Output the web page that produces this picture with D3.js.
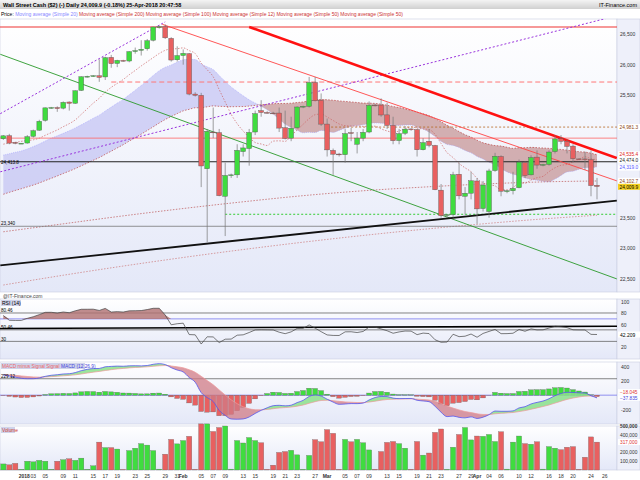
<!DOCTYPE html>
<html><head><meta charset="utf-8">
<script src="https://cdn.jsdelivr.net/npm/d3@7"></script>
<style>body{margin:0;background:#fff}svg{display:block;font-family:"Liberation Sans",Arial,sans-serif}</style>
</head><body><svg id="c" width="640" height="480"></svg>
<script>
const dates=["12-28","12-29","12-31","01-01","01-02","01-03","01-04","01-05","01-07","01-08","01-09","01-10","01-11","01-12","01-14","01-15","01-16","01-17","01-18","01-19","01-21","01-22","01-23","01-24","01-25","01-26","01-28","01-29","01-30","01-31","02-01","02-02","02-04","02-05","02-06","02-07","02-08","02-09","02-11","02-12","02-13","02-14","02-15","02-16","02-18","02-19","02-20","02-21","02-22","02-23","02-25","02-26","02-27","02-28","03-01","03-02","03-04","03-05","03-06","03-07","03-08","03-09","03-11","03-12","03-13","03-14","03-15","03-16","03-18","03-19","03-20","03-21","03-22","03-23","03-25","03-26","03-27","03-28","03-29","04-02","04-03","04-04","04-05","04-06","04-08","04-09","04-10","04-11","04-12","04-13","04-15","04-16","04-17","04-18","04-19","04-20","04-22","04-23","04-24","04-25"];
const opens=[24790,24840,24730,24715,24720,24830,24930,25090,25290,25300,25290,25390,25370,25580,25800,25810,25820,25800,26120,26020,26070,26060,26215,26235,26260,26400,26610,26620,26430,26080,26150,26180,25520,25500,24300,24900,24890,23850,24190,24200,24580,24630,24900,25250,25220,25210,25210,24970,24800,24970,25310,25320,25710,25420,25030,24600,24540,24530,24890,24700,24800,24900,25340,25340,25180,25010,24760,24880,24950,24940,24610,24750,24680,23950,23540,23550,24210,23850,23900,24100,23650,23600,24270,24500,23930,23940,23990,24400,24200,24490,24360,24370,24580,24790,24750,24670,24460,24460,24450,24030];
const highs=[24850,24870,24740,24720,24850,24940,25100,25300,25310,25320,25400,25400,25580,25810,25820,25830,26090,26130,26160,26080,26080,26220,26280,26400,26420,26620,26640,26660,26450,26300,26250,26190,25550,25540,24950,25300,24950,24400,24220,24700,24700,24950,25250,25420,25240,25230,25300,25250,25150,25320,25330,25800,25800,25530,25120,24630,24560,24950,24970,24900,24950,25400,25360,25450,25380,25150,24950,25000,24960,24950,24800,24950,24690,24050,23560,24250,24400,24000,24250,24150,24100,24300,24560,24520,23950,24250,24450,24420,24520,24600,24380,24600,24850,24850,24780,24700,24470,24580,24600,24150];
const lows=[24770,24700,24700,24710,24710,24810,24920,25070,25280,25230,25270,25250,25360,25570,25790,25800,25720,25750,25950,25960,26050,26040,26180,26150,26230,26380,26590,26420,26050,26050,26000,25500,25480,24000,23100,24800,23850,23200,24150,24150,24500,24350,24850,25150,25200,25190,24900,24780,24750,24950,25290,25300,25400,25000,24500,24200,24500,24400,24750,24550,24750,24880,25320,25150,24950,24700,24700,24850,24920,24500,24600,24650,23950,23500,23500,23500,23800,23550,23800,23400,23600,23500,24250,23850,23900,23880,23980,24150,24190,24300,24340,24350,24550,24700,24550,24400,24440,24280,23850,23800];
const closes=[24838,24719,24715,24716,24824,24922,25075,25295,25300,25283,25385,25369,25574,25803,25810,25820,25792,26115,26017,26071,26060,26214,26230,26252,26392,26616,26620,26439,26076,26149,26186,25520,25500,24345,24912,24893,23860,24190,24200,24601,24640,24893,25200,25219,25210,25200,24964,24797,24962,25309,25320,25709,25410,25029,24608,24538,24530,24874,24884,24801,24895,25336,25330,25178,25007,24758,24873,24947,24940,24610,24727,24683,23957,23533,23550,24202,23857,23900,24103,23644,24034,24264,24505,23933,23940,23979,24408,24189,24483,24360,24370,24573,24787,24748,24665,24463,24450,24448,24024,24010];
const volumes=[69,59,76,8,100,93,110,100,8,100,117,128,110,135,8,48,317,255,255,238,6,221,248,300,283,221,10,180,348,297,335,383,8,524,524,438,483,500,10,335,307,369,335,310,8,55,200,210,224,172,8,166,345,321,459,417,8,348,321,348,310,228,8,210,314,324,300,248,8,324,169,193,428,466,8,259,404,483,342,386,383,404,324,435,10,317,386,300,293,321,10,266,248,231,259,266,8,145,376,317];
const priorCloses=[23157,23158,23163,23329,23273,23441,23329,23400,23434,23349,23377,23435,23516,23539,23548,23557,23563,23461,23422,23439,23409,23271,23458,23358,23430,23590,23526,23558,23580,23836,23940,24272,24231,24290,24180,24140,24211,24329,24386,24504,24585,24509,24651,24792,24754,24726,24782,24754,24746,24774];
const ma100Slots=[0,10,20,30,40,50,60,70,80,90,99];
const ma100Vals=[23270,23400,23530,23650,23760,23860,23940,24000,24050,24085,24100];
const ma200Vals=[22400,22560,22710,22850,22980,23100,23210,23310,23400,23480,23540];
const priceTicks=[26500,26000,25500,23500,23000,22500];
const rsiTicks=[100,80,60,20];
const macdTicks=[400,200,-200];
const volTicks=[500000,400000,200000,100000];
const trendRed=[41,26616,102.3,24474];
const trendRedThin=[26.5,26660,102.3,24102];
const trendGreen=[-0.5,26170,102.3,22500];
const trendBlack=[-0.5,22720,102.3,23780];
const trendPurple=[-0.5,24250,102.3,26800];
const trendPurpleShort=[-0.5,25200,27,26700];
const hLines=[{v:26616,c:"#e33",w:1.2,d:null,from:-1},{v:25717,c:"#f77",w:1,d:"5,3",from:18},{v:24800,c:"#f66",w:0.8,d:null,from:-1},{v:24981,c:"#b5651d",w:0.8,d:"2,2",from:54},{v:24414,c:"#222",w:1,d:null,from:-1},{v:23556,c:"#3c3",w:1,d:"2,2",from:37},{v:23360,c:"#777",w:0.8,d:null,from:-1}];
const rightLabels=[{v:24981.3,t:"24,981.3",c:"#8b4513",bg:"#fff"},{v:24535.4,t:"24,535.4",c:"#d22",bg:"#fff"},{v:24474.0,t:"24,474.0",c:"#222",bg:"#fff"},{v:24319.0,t:"24,319.0",c:"#55f",bg:"#fff"},{v:24102.7,t:"24,102.7",c:"#8b4513",bg:"#fff"},{v:24009.9,t:"24,009.9",c:"#000",bg:"#f5d020"}];

const svg=d3.select("#c");
const defs=svg.append("defs");
const g=defs.append("linearGradient").attr("id","bg").attr("x1",0).attr("x2",0).attr("y1",0).attr("y2",1);
g.append("stop").attr("offset","0%").attr("stop-color","#ffffff");
g.append("stop").attr("offset","100%").attr("stop-color","#e4e8f8");
const hg=defs.append("linearGradient").attr("id","hd").attr("x1",0).attr("x2",0).attr("y1",0).attr("y2",1);
hg.append("stop").attr("offset","0%").attr("stop-color","#f4f4f4");
hg.append("stop").attr("offset","100%").attr("stop-color","#d0d0d0");

const X0=3.3,PR=617;
const x=d3.scaleLinear().domain([0,99]).range([X0,597]);
const n=closes.length;
const panels=[[19,292],[299,359],[362,424],[426,470]];
panels.forEach(([a,b])=>{
 svg.append("rect").attr("x",0).attr("y",a).attr("width",PR).attr("height",b-a).attr("fill","url(#bg)").attr("stroke","#c8cce0").attr("stroke-width",0.6);
 svg.append("rect").attr("x",PR).attr("y",a).attr("width",640-PR).attr("height",b-a).attr("fill","#eef0fa").attr("stroke","#c8cce0").attr("stroke-width",0.6);
});
svg.append("rect").attr("x",0).attr("y",0).attr("width",640).attr("height",9).attr("fill","url(#hd)");
svg.append("text").attr("x",3).attr("y",7).attr("font-size",5.5).attr("font-weight","bold").text("Wall Street Cash ($2) (-)   Daily   24,009.9 (-0.18%)   25-Apr-2018 20:47:58");
svg.append("text").attr("x",637).attr("y",7).attr("font-size",5.5).attr("text-anchor","end").text("IT-Finance.com");
const leg=svg.append("text").attr("x",1).attr("y",15.5).attr("font-size",5);
[["Price: ","#000"],["Moving average (Simple 20)","#88f"],[" Moving average (Simple 200)","#c33"],[" Moving average (Simple 100)","#c33"],[" Moving average (Simple 12)","#c33"],[" Moving average (Simple 50)","#c33"],[" Moving average (Simple 50)","#c33"]].forEach(([t,c])=>leg.append("tspan").attr("fill",c).text(t));

const y=d3.scaleLinear().domain([22500,26500]).range([278.9,34.1]);
const main=svg.append("g");
svg.append("clipPath").attr("id","mc").append("rect").attr("x",0).attr("y",19).attr("width",PR).attr("height",273);
main.attr("clip-path","url(#mc)");
const all=priorCloses.concat(closes);
const sma=(p)=>closes.map((c,i)=>d3.mean(all.slice(i+50-p+1,i+51)));
const ma20=sma(20),ma50=sma(50),ma12=sma(12);
const idx=d3.range(n);
const areaB=d3.area().x(i=>x(i)).y0(i=>y(ma50[i])).y1(i=>y(Math.max(ma20[i],ma50[i]))).curve(d3.curveMonotoneX);
const areaR=d3.area().x(i=>x(i)).y0(i=>y(ma20[i])).y1(i=>y(Math.max(ma20[i],ma50[i]))).curve(d3.curveMonotoneX);
main.append("path").attr("d",areaB(idx)).attr("fill","#c8c8f4").attr("opacity",0.8);
main.append("path").attr("d",areaR(idx)).attr("fill","#c08888").attr("opacity",0.65);
main.append("path").attr("d",d3.line().x(i=>x(i)).y(i=>y(ma20[i])).curve(d3.curveMonotoneX)(idx)).attr("fill","none").attr("stroke","#99f").attr("stroke-width",0.5).attr("stroke-dasharray","1,1");
const dl=(arr,col)=>main.append("path").attr("d",d3.line().x(i=>x(i)).y(i=>y(arr[i])).curve(d3.curveMonotoneX)(idx)).attr("fill","none").attr("stroke",col).attr("stroke-width",0.7).attr("stroke-dasharray","1.5,1.5");
dl(ma12,"#c66");dl(ma50,"#b44");
const spl=(vals,col)=>main.append("path").attr("d",d3.line().x((d,i)=>x(ma100Slots[i])).y(d=>y(d)).curve(d3.curveMonotoneX)(vals)).attr("fill","none").attr("stroke",col).attr("stroke-width",0.7).attr("stroke-dasharray","1.5,1.5");
spl(ma100Vals,"#b55");spl(ma200Vals,"#c77");
hLines.forEach(h=>main.append("line").attr("x1",h.from<0?0:x(h.from)).attr("x2",PR).attr("y1",y(h.v)).attr("y2",y(h.v)).attr("stroke",h.c).attr("stroke-width",h.w).attr("stroke-dasharray",h.d));
const tl=(t,c,w,d)=>main.append("line").attr("x1",x(t[0])).attr("y1",y(t[1])).attr("x2",x(t[2])).attr("y2",y(t[3])).attr("stroke",c).attr("stroke-width",w).attr("stroke-dasharray",d);
tl(trendGreen,"#2a9a2a",0.9,null);
tl(trendPurple,"#9933dd",1,"2,2");
tl(trendPurpleShort,"#9933dd",1,"2,2");
tl(trendBlack,"#111",1.8,null);
tl(trendRedThin,"#f44",0.9,null);
tl(trendRed,"#f11",2.6,null);
idx.forEach(i=>{
 const up=closes[i]>=opens[i];
 main.append("line").attr("x1",x(i)).attr("x2",x(i)).attr("y1",y(highs[i])).attr("y2",y(lows[i])).attr("stroke","#777").attr("stroke-width",0.7);
 main.append("rect").attr("x",x(i)-2.4).attr("width",4.8).attr("y",y(Math.max(opens[i],closes[i]))).attr("height",Math.max(0.8,Math.abs(y(opens[i])-y(closes[i])))).attr("fill",up?"#3fdc3f":"#e86060").attr("stroke","#555").attr("stroke-width",0.4);
});
priceTicks.forEach(v=>svg.append("text").attr("x",620).attr("y",y(v)+2).attr("font-size",5).attr("fill","#333").text(d3.format(",")(v)));
// stack right labels so they don't overlap
let prevY=-99;
rightLabels.forEach(l=>{let ly=Math.max(y(l.v),prevY+6);prevY=ly;
 svg.append("rect").attr("x",618).attr("y",ly-3).attr("width",22).attr("height",6).attr("fill",l.bg);
 svg.append("text").attr("x",619.5).attr("y",ly+1.8).attr("font-size",4.8).attr("fill",l.c).text(l.t);});
svg.append("text").attr("x",1).attr("y",y(24414)+2).attr("font-size",4.6).text("24,413.8");
svg.append("text").attr("x",1).attr("y",y(23360)-1).attr("font-size",4.6).text("23,340");
svg.append("text").attr("x",3).attr("y",298).attr("font-size",5).attr("fill","#444").text("@IT-Finance.com");

let ag=0,al=0;const rsi=[];
const allCh=d3.range(1,all.length).map(i=>all[i]-all[i-1]);
allCh.forEach((c,k)=>{const gg=Math.max(c,0),ll=Math.max(-c,0);if(k<14){ag+=gg/14;al+=ll/14;}else{ag=(ag*13+gg)/14;al=(al*13+ll)/14;}
 if(k>=allCh.length-n) rsi.push(100-100/(1+ag/(al||1e-9)));});
while(rsi.length<n) rsi.unshift(rsi[0]);
const yr=d3.scaleLinear().domain([20,100]).range([347,302]);
const rs=svg.append("g");
[[80.46,"#666",0.8],[70,"#77e",0.8],[50.46,"#666",0.8],[30,"#666",0.8]].forEach(([v,c,w])=>rs.append("line").attr("x1",0).attr("x2",PR).attr("y1",yr(v)).attr("y2",yr(v)).attr("stroke",c).attr("stroke-width",w));
rs.append("line").attr("x1",0).attr("x2",PR).attr("y1",yr(53)).attr("y2",yr(57)).attr("stroke","#000").attr("stroke-width",1.6);
rs.append("path").attr("d",d3.area().x(i=>x(i)).y0(yr(70)).y1(i=>yr(Math.max(70,rsi[i])))(idx)).attr("fill","#b07070").attr("opacity",0.8);
rs.append("path").attr("d",d3.line().x(i=>x(i)).y(i=>yr(rsi[i]))(idx)).attr("fill","none").attr("stroke","#444").attr("stroke-width",0.7);
rsiTicks.forEach(v=>svg.append("text").attr("x",621).attr("y",yr(v)+2).attr("font-size",5).attr("fill","#333").text(v));
svg.append("rect").attr("x",1).attr("y",300).attr("width",20).attr("height",6).attr("fill","#cfd3ea");
svg.append("text").attr("x",2).attr("y",305).attr("font-size",5).text("RSI (14)");
svg.append("text").attr("x",1).attr("y",yr(80.46)-0.5).attr("font-size",4.6).text("80.46");
svg.append("text").attr("x",1).attr("y",yr(50.46)-0.5).attr("font-size",4.6).text("50.46");
svg.append("text").attr("x",1).attr("y",yr(30)-0.5).attr("font-size",4.6).text("30");
svg.append("rect").attr("x",618).attr("y",yr(rsi[n-1])-3).attr("width",22).attr("height",6).attr("fill","#fff");
svg.append("text").attr("x",620).attr("y",yr(rsi[n-1])+2).attr("font-size",5).text(d3.format(".3f")(rsi[n-1]));

const ema=(arr,p)=>{const k=2/(p+1);let e=arr[0];return arr.map(v=>e=v*k+e*(1-k));};
const e12=ema(all,12),e26=ema(all,26);
const macdAll=all.map((v,i)=>e12[i]-e26[i]);const sigAll=ema(macdAll,9);
const macd=macdAll.slice(50),sig=sigAll.slice(50);
const ym=d3.scaleLinear().domain([-200,400]).range([409.5,366.5]);
const mg=svg.append("g");
mg.append("line").attr("x1",0).attr("x2",PR).attr("y1",ym(229.12)).attr("y2",ym(229.12)).attr("stroke","#666").attr("stroke-width",0.8);
mg.append("line").attr("x1",0).attr("x2",PR).attr("y1",ym(0)).attr("y2",ym(0)).attr("stroke","#77e").attr("stroke-width",0.8);
idx.forEach(i=>{const h=macd[i]-sig[i];mg.append("rect").attr("x",x(i)-2.4).attr("width",4.8).attr("y",Math.min(ym(0),ym(h))).attr("height",Math.abs(ym(h)-ym(0))).attr("fill",h>=0?"#3fdc3f":"#e86060").attr("stroke","#555").attr("stroke-width",0.3);});
mg.append("path").attr("d",d3.area().x(i=>x(i)).y0(i=>ym(sig[i])).y1(i=>ym(Math.max(macd[i],sig[i]))).curve(d3.curveMonotoneX)(idx)).attr("fill","#8be08b").attr("opacity",0.85);
mg.append("path").attr("d",d3.area().x(i=>x(i)).y0(i=>ym(macd[i])).y1(i=>ym(Math.max(macd[i],sig[i]))).curve(d3.curveMonotoneX)(idx)).attr("fill","#d07b85").attr("opacity",0.75);
mg.append("path").attr("d",d3.line().x(i=>x(i)).y(i=>ym(sig[i])).curve(d3.curveMonotoneX)(idx)).attr("fill","none").attr("stroke","#e99").attr("stroke-width",0.7);
mg.append("path").attr("d",d3.line().x(i=>x(i)).y(i=>ym(macd[i])).curve(d3.curveMonotoneX)(idx)).attr("fill","none").attr("stroke","#55e").attr("stroke-width",0.8);
macdTicks.forEach(v=>svg.append("text").attr("x",621).attr("y",ym(v)+2).attr("font-size",5).attr("fill","#333").text(v));
svg.append("rect").attr("x",1).attr("y",363).attr("width",84).attr("height",6).attr("fill","#cfd3ea");
const ml=svg.append("text").attr("x",2).attr("y",368).attr("font-size",4.8);
[["MACD minus Signal ","#e66"],["Signal ","#e66"],["MACD (12,26,9)","#44d"]].forEach(([t,c])=>ml.append("tspan").attr("fill",c).text(t));
svg.append("text").attr("x",1).attr("y",ym(229.12)-0.5).attr("font-size",4.6).text("229.12");
[[sig[n-1],"#d33"],[macd[n-1],"#44d"]].forEach(([v,c],k)=>{svg.append("rect").attr("x",618).attr("y",ym(0)-6+k*6).attr("width",22).attr("height",5.6).attr("fill","#fff");
 svg.append("text").attr("x",620).attr("y",ym(0)-1.5+k*6).attr("font-size",4.8).attr("fill",c).text(d3.format(".3f")(v));});

const yv=d3.scaleLinear().domain([0,500000]).range([470,426]);
idx.forEach(i=>{const up=closes[i]>=opens[i];svg.append("rect").attr("x",x(i)-2.6).attr("width",5.2).attr("y",yv(volumes[i]*1000)).attr("height",470-yv(volumes[i]*1000)).attr("fill",up?"#3fdc3f":"#e86060").attr("stroke","#666").attr("stroke-width",0.3);});
volTicks.forEach(v=>svg.append("text").attr("x",620).attr("y",yv(v)+2).attr("font-size",4.8).attr("fill","#333").attr("font-weight",v===500000?"bold":null).text(d3.format(",")(v)));
svg.append("rect").attr("x",1).attr("y",427).attr("width",14).attr("height",6).attr("fill","#cfd3ea");
svg.append("text").attr("x",2).attr("y",432).attr("font-size",4.8).attr("fill","#c33").text("Volume");
svg.append("rect").attr("x",618).attr("y",yv(volumes[n-1]*1000)-3).attr("width",22).attr("height",6).attr("fill","#fff");
svg.append("text").attr("x",620).attr("y",yv(volumes[n-1]*1000)+2).attr("font-size",4.8).attr("fill","#d33").text(d3.format(",")(volumes[n-1]*1000));

const mnames={"01":"2018","02":"Feb","03":"Mar","04":"Apr"};
let lastM="12",cnt=0;const dticks=[];
dates.forEach((d,i)=>{const [m,dd]=d.split("-");if(m==="12")return;const dow=new Date(2018,+m-1,+dd).getDay();if(dow===0)return;
 if(m!==lastM){dticks.push([m==="01"?i+0.5:i,mnames[m],true]);lastM=m;cnt=0;return;}
 cnt++; if(cnt%2===0) dticks.push([i,dd,false]);});
dticks.push([100.3,"26",false]);
dticks.forEach(([i,t,b])=>svg.append("text").attr("x",x(i)).attr("y",477.5).attr("font-size",5).attr("text-anchor","middle").attr("font-weight",b?"bold":null).attr("fill","#333").text(t));
</script></body></html>
